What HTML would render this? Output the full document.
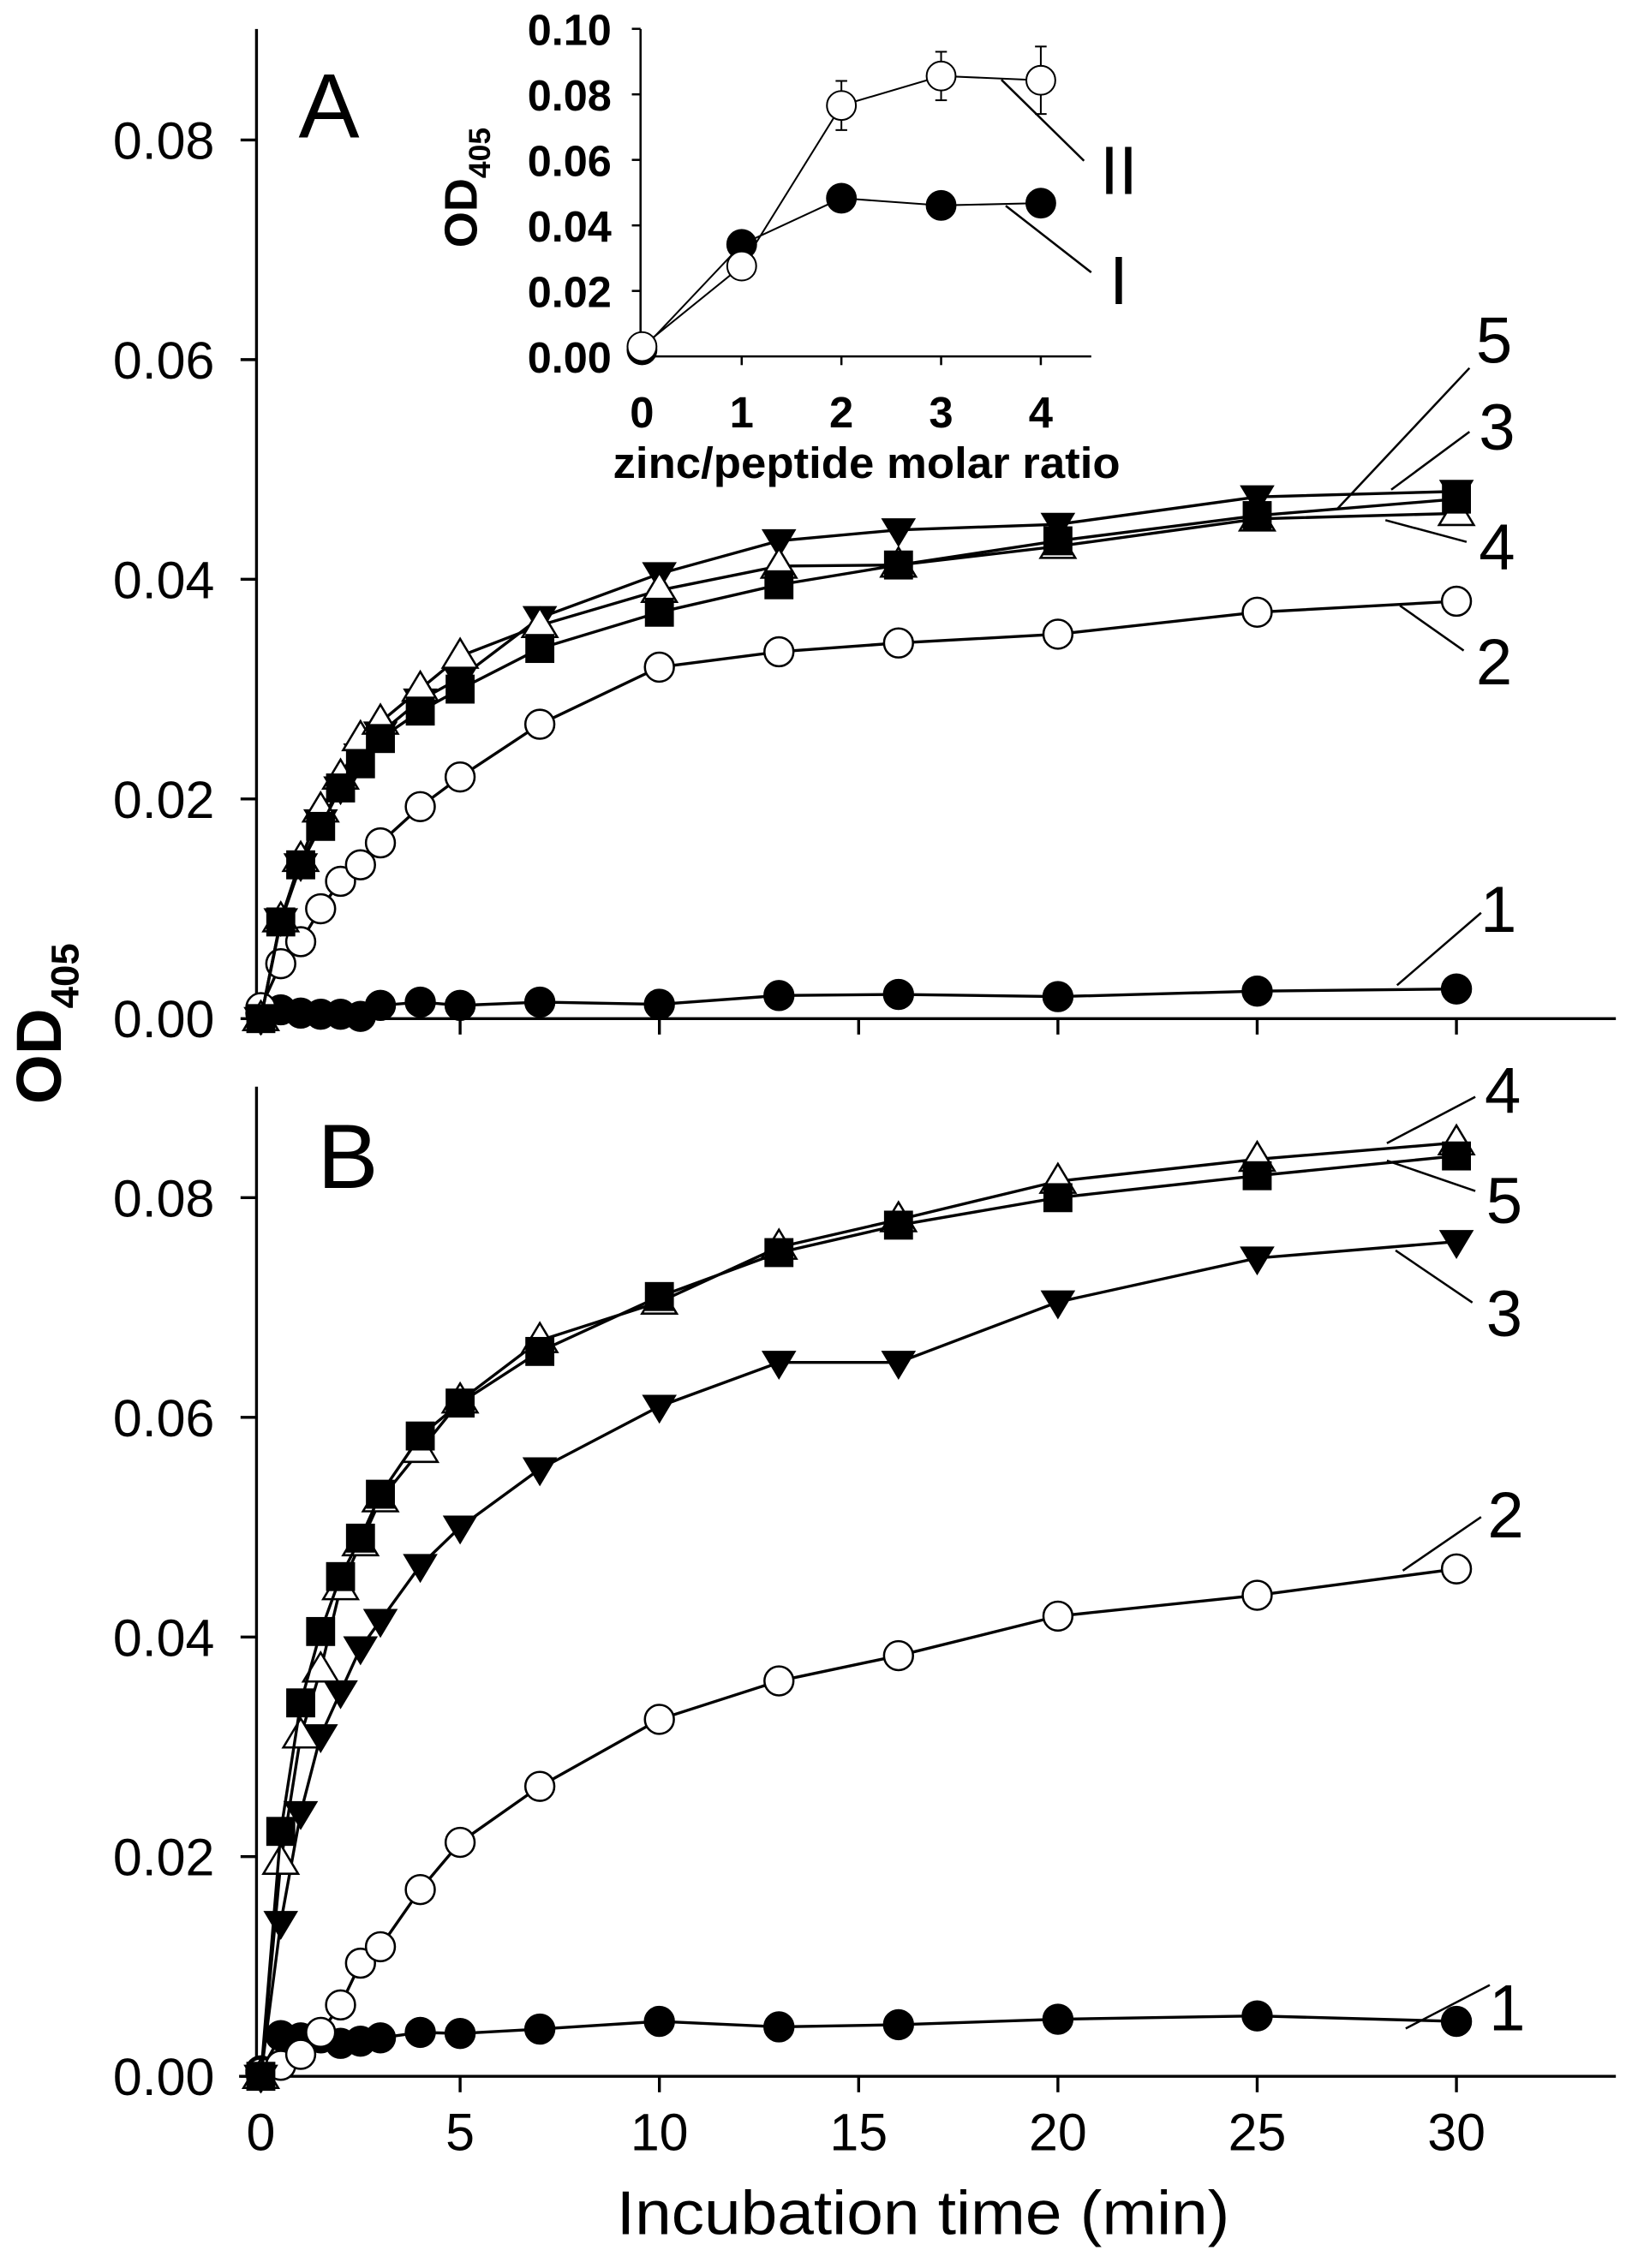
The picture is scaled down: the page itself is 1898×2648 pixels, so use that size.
<!DOCTYPE html>
<html><head><meta charset="utf-8"><style>
html,body{margin:0;padding:0;background:#fff}
svg{display:block}
text{font-family:"Liberation Sans",Arial,sans-serif;fill:#000}
</style></head><body>
<svg id="s" width="1898" height="2648" viewBox="0 0 1122 1565.3" preserveAspectRatio="none" xmlns="http://www.w3.org/2000/svg">
<g stroke="#000" stroke-width="2" fill="none">
<line x1="177" y1="20" x2="177" y2="704"/>
<line x1="177" y1="703" x2="1115" y2="703"/>
<line x1="177" y1="750" x2="177" y2="1434"/>
<line x1="165" y1="1433" x2="1115" y2="1433"/>
<line x1="442" y1="20" x2="442" y2="246.5" stroke-width="1.5"/>
<line x1="442" y1="246" x2="753" y2="246" stroke-width="1.5"/>
</g>
<g id="content"></g>
<text x="227" y="95" font-size="63" text-anchor="middle">A</text>
<text x="240" y="820" font-size="63" text-anchor="middle">B</text>
<text transform="translate(42,762) rotate(-90)" font-size="44" font-weight="bold">OD<tspan font-size="27" dy="12">405</tspan></text>
<text transform="translate(329,171) rotate(-90)" font-size="32" font-weight="bold">OD<tspan font-size="21" dy="9">405</tspan></text>
<text x="598" y="330" font-size="30" font-weight="bold" text-anchor="middle" textLength="350" lengthAdjust="spacingAndGlyphs">zinc/peptide molar ratio</text>
<text x="637" y="1542" font-size="43" text-anchor="middle" textLength="423" lengthAdjust="spacingAndGlyphs">Incubation time (min)</text>
</svg>
<script>
var NS="http://www.w3.org/2000/svg",C=document.getElementById("content");
function el(t,a,txt){var e=document.createElementNS(NS,t);for(var k in a)e.setAttribute(k,a[k]);if(txt!==undefined)e.textContent=txt;C.appendChild(e);return e;}
function xm(t){return 180+t*27.5;}
function yA(v){return 703-v*7580;}
function yB(v){return 1433-v*7580;}
[0,0.02,0.04,0.06,0.08].forEach(function(v){
 [yA,yB].forEach(function(f){var y=f(v);el("line",{x1:166,y1:y,x2:177,y2:y,stroke:"#000","stroke-width":2});
 el("text",{x:148,y:y+13,"font-size":36,"text-anchor":"end"},v.toFixed(2));});
});
[0,5,10,15,20,25,30].forEach(function(t){var x=xm(t);
 el("line",{x1:x,y1:703,x2:x,y2:714,stroke:"#000","stroke-width":2});
 el("line",{x1:x,y1:1433,x2:x,y2:1444,stroke:"#000","stroke-width":2});
 el("text",{x:x,y:1484,"font-size":36,"text-anchor":"middle"},String(t));});
function xi(r){return 443+r*68.8;} function yi(v){return 246-v*2261;}
[0,0.02,0.04,0.06,0.08,0.10].forEach(function(v){var y=yi(v);
 el("line",{x1:436,y1:y,x2:442,y2:y,stroke:"#000","stroke-width":1.5});
 el("text",{x:422,y:y+11,"font-size":30,"font-weight":"bold","text-anchor":"end",textLength:58,lengthAdjust:"spacingAndGlyphs"},v.toFixed(2));});
[0,1,2,3,4].forEach(function(r){var x=xi(r);
 if(r>0)el("line",{x1:x,y1:246,x2:x,y2:252,stroke:"#000","stroke-width":1.5});
 el("text",{x:x,y:295,"font-size":30,"font-weight":"bold","text-anchor":"middle"},String(r));});
function marker(type,x,y){
 if(type=="fc")el("circle",{cx:x,cy:y,r:10,fill:"#000",stroke:"#000","stroke-width":1.5});
 else if(type=="oc")el("circle",{cx:x,cy:y,r:10,fill:"#fff",stroke:"#000","stroke-width":1.5});
 else if(type=="sq")el("rect",{x:x-10,y:y-10,width:20,height:20,fill:"#000"});
 else if(type=="dt")el("polygon",{points:(x-12)+","+(y-8)+" "+(x+12)+","+(y-8)+" "+x+","+(y+12),fill:"#000"});
 else if(type=="ut")el("polygon",{points:(x-12)+","+(y+8)+" "+(x+12)+","+(y+8)+" "+x+","+(y-12),fill:"#fff",stroke:"#000","stroke-width":1.5});
}
var T=[0,0.5,1,1.5,2,2.5,3,4,5,7,10,13,16,20,25,30];
function series(vals,type,f){
 var pts=T.map(function(t,i){return xm(t)+","+f(vals[i]);}).join(" ");
 el("polyline",{points:pts,fill:"none",stroke:"#000","stroke-width":2});
 T.forEach(function(t,i){marker(type,xm(t),f(vals[i]));});
}
var A={
fc:[0.0005,0.0008,0.0005,0.0004,0.0004,0.0002,0.0012,0.0015,0.0012,0.0015,0.0013,0.0021,0.0022,0.002,0.0025,0.0027],
oc:[0.001,0.005,0.007,0.010,0.0125,0.014,0.016,0.0193,0.022,0.0268,0.032,0.0334,0.0342,0.035,0.037,0.038],
dt:[0,0.009,0.014,0.018,0.021,0.024,0.026,0.029,0.031,0.0365,0.0405,0.0435,0.0445,0.045,0.0475,0.048],
ut:[0,0.009,0.0145,0.019,0.022,0.0255,0.027,0.030,0.033,0.0358,0.039,0.0412,0.0413,0.043,0.0455,0.046],
sq:[0,0.0088,0.014,0.0175,0.021,0.0232,0.0255,0.028,0.030,0.0337,0.037,0.0395,0.0413,0.0435,0.0458,0.0473]};
var B={
fc:[0.0005,0.0037,0.0035,0.0035,0.003,0.0032,0.0035,0.004,0.0039,0.0043,0.005,0.0045,0.0047,0.0052,0.0055,0.005],
oc:[0.0003,0.001,0.002,0.004,0.0065,0.0103,0.0118,0.017,0.0213,0.0264,0.0325,0.036,0.0383,0.0419,0.0438,0.0462],
dt:[0,0.014,0.024,0.031,0.035,0.039,0.0415,0.0465,0.050,0.0553,0.061,0.065,0.065,0.0705,0.0745,0.076],
ut:[0,0.0195,0.031,0.037,0.0445,0.0485,0.0525,0.057,0.0615,0.067,0.0705,0.0755,0.078,0.0815,0.0835,0.085],
sq:[0,0.0223,0.034,0.0405,0.0455,0.049,0.053,0.0583,0.0613,0.066,0.071,0.075,0.0775,0.080,0.082,0.0838]};
["fc","oc","dt","ut","sq"].forEach(function(k){series(A[k],k,yA);series(B[k],k,yB);});
function lab(x1,y1,x2,y2,tx,ty,s,fs){el("line",{x1:x1,y1:y1,x2:x2,y2:y2,stroke:"#000","stroke-width":1.5});var f=fs||45;el("text",{x:tx,y:ty+f*0.36,"font-size":f,"text-anchor":"middle"},s);}
lab(923,351,1014,254,1031,234,"5");
lab(960,338,1014,298,1033,294,"3");
lab(956,359,1012,374,1033,377,"4");
lab(966,418,1010,449,1031,456,"2");
lab(964,680,1022,630,1034,627,"1");
lab(957,789,1018,757,1037,752,"4");
lab(957,801,1018,822,1038,828,"5");
lab(963,863,1016,899,1038,906,"3");
lab(968,1084,1022,1047,1039,1045,"2");
lab(970,1400,1028,1370,1040,1385,"1");
var R=[0,1,2,3,4];
var II=[0.003,0.0276,0.0766,0.0856,0.0843],IIe=[0,0,0.0075,0.0074,0.0103];
var I=[0.002,0.0342,0.0483,0.0461,0.0468],Ie=[0,0,0.0021,0.0024,0.002];
function inset(v,e,type){
 el("polyline",{points:R.map(function(r,i){return xi(r)+","+yi(v[i]);}).join(" "),fill:"none",stroke:"#000","stroke-width":1.2});
 R.forEach(function(r,i){if(e[i]>0){var x=xi(r);el("line",{x1:x,y1:yi(v[i]+e[i]),x2:x,y2:yi(v[i]-e[i]),stroke:"#000","stroke-width":1.2});
 [v[i]+e[i],v[i]-e[i]].forEach(function(w){el("line",{x1:x-4,y1:yi(w),x2:x+4,y2:yi(w),stroke:"#000","stroke-width":1.2});});}});
 R.forEach(function(r,i){el("ellipse",{cx:xi(r),cy:yi(v[i]),rx:10,ry:10,fill:type=="f"?"#000":"#fff",stroke:"#000","stroke-width":1.2});});
}
inset(I,Ie,"f");inset(II,IIe,"o");
lab(691,55,748,111,772,117,"II",47);
lab(694,142,753,188,772,193,"I",47);
</script>
</body></html>
